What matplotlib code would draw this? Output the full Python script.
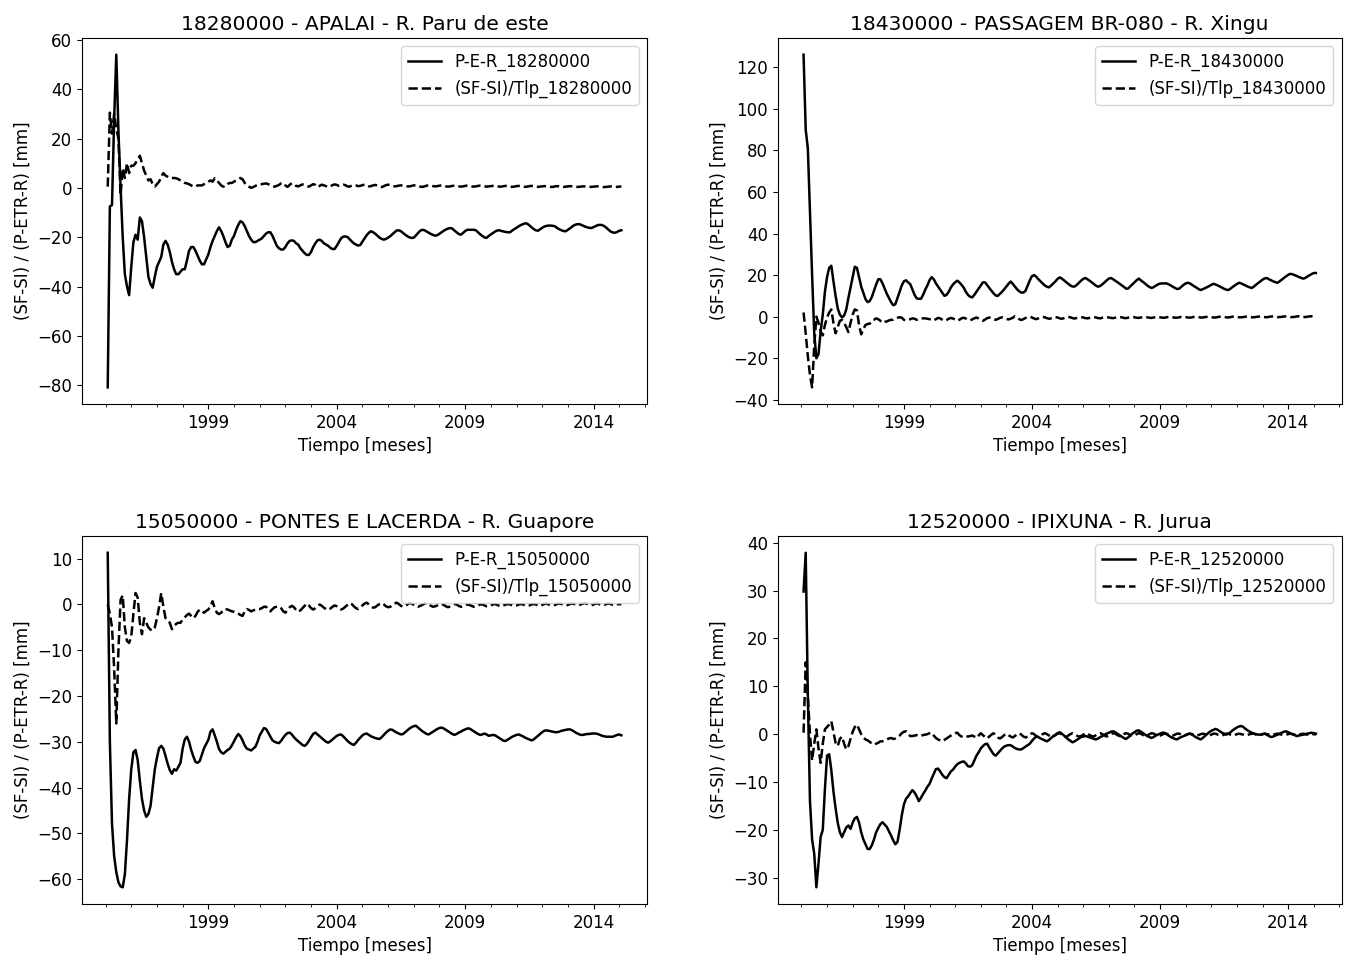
import numpy as np
import matplotlib
matplotlib.use("Agg")
import matplotlib.pyplot as plt
from matplotlib.ticker import FixedLocator, MultipleLocator

# Monthly series, Jan-1995 .. Jan-2015 (241 months)
start_year = 1995
n_months = 241

# ---- 18280000 - APALAI - R. Paru de este ----
per_18280000 = [
    -80.9, -7.5, -7.0, 28.0, 54.0, 23.0, 0.5, -20.0, -35.0, -40.0, -43.5, -32.0,
    -22.0, -19.0, -21.0, -12.0, -13.5, -20.0, -28.0, -36.0, -39.0, -40.5, -36.0, -32.0,
    -30.0, -28.0, -23.0, -21.5, -23.0, -26.0, -30.0, -33.0, -35.0, -35.0, -34.0, -33.0,
    -33.0, -29.5, -25.5, -24.0, -24.0, -25.5, -27.5, -29.5, -31.0, -31.0, -29.0, -27.0,
    -24.0, -21.5, -19.5, -17.5, -16.0, -17.5, -19.5, -22.0, -24.0, -23.5, -21.0, -19.5,
    -17.0, -15.0, -13.5, -14.0, -15.5, -17.5, -19.5, -21.0, -22.0, -22.0, -21.5, -21.0,
    -20.5, -19.5, -18.5, -18.0, -18.0, -19.5, -21.5, -23.5, -24.5, -25.0, -25.0, -24.0,
    -22.5, -21.5, -21.3, -21.5, -22.5, -23.0, -24.5, -25.5, -26.5, -27.2, -27.2, -26.0,
    -24.0, -22.5, -21.3, -21.0, -21.5, -22.5, -23.0, -23.5, -24.3, -24.8, -24.8, -23.5,
    -22.0, -20.5, -19.8, -19.7, -19.9, -20.8, -21.7, -22.5, -23.0, -23.4, -23.2, -21.8,
    -20.5, -19.2, -18.2, -17.6, -18.0, -18.6, -19.4, -20.2, -20.7, -21.0, -20.7, -20.2,
    -19.6, -18.8, -18.0, -17.3, -17.2, -17.6, -18.3, -19.0, -19.6, -20.1, -20.3, -20.2,
    -19.3, -18.3, -17.4, -17.0, -17.2, -17.7, -18.2, -18.7, -19.1, -19.4, -19.2, -18.6,
    -18.0, -17.4, -16.9, -16.5, -16.3, -16.5, -17.3, -18.0, -18.7, -19.0, -18.3, -17.5,
    -17.0, -17.0, -17.0, -17.0, -17.2, -18.0, -18.8, -19.5, -20.1, -20.3, -19.5, -18.9,
    -18.3, -17.7, -17.3, -17.2, -17.5, -17.7, -17.9, -18.0, -18.0, -17.3, -16.7, -16.2,
    -15.6, -15.1, -14.7, -14.4, -14.5, -15.2, -16.0, -16.7, -17.2, -17.4, -16.8, -16.2,
    -15.7, -15.4, -15.3, -15.3, -15.4, -15.6, -16.3, -16.8, -17.2, -17.5, -17.6, -17.0,
    -16.4, -15.7, -15.1, -14.8, -14.7, -14.9, -15.3, -15.7, -16.0, -16.2, -16.3, -15.9,
    -15.5, -15.1, -15.0, -15.1, -15.5, -16.2, -17.0, -17.7, -18.1, -18.2, -17.9, -17.4,
    -17.2,
]
sfsi_18280000 = [
    0.5, 30.5, 22.0, 30.0, 24.0, 20.0, -3.0, 8.0, 4.0, 10.0, 6.0, 9.0,
    9.0, 10.0, 11.5, 13.0, 10.0, 7.0, 5.0, 3.0, 3.5, 1.5, 0.5, 1.5,
    2.5, 4.5, 6.0, 5.0, 4.5, 4.0, 4.0, 4.0, 3.9, 3.5, 3.0, 2.5,
    2.0, 1.8, 1.5, 1.0, 0.5, 0.5, 1.0, 1.0, 1.0, 1.5, 2.0, 2.5,
    3.0, 2.5, 3.9, 3.0, 2.0, 1.0, 0.5, 0.5, 1.5, 2.0, 2.0, 2.5,
    3.0, 3.5, 4.0, 3.5, 2.0, 1.0, 0.5, 0.0, 0.3, 0.8, 1.2, 1.5,
    1.5, 1.7, 1.8, 1.5, 1.0, 0.6, 0.5, 0.8, 1.2, 1.8, 2.0, 1.0,
    0.4, 1.2, 1.9, 1.5, 0.8, 0.6, 1.0, 1.4, 1.2, 0.7, 0.5, 1.0,
    1.5, 1.2, 0.3, 0.8, 1.3, 1.0, 0.7, 0.3, 0.6, 1.1, 1.4, 1.2,
    0.8, 0.9, 1.3, 1.1, 0.6, 0.5, 0.9, 1.2, 1.0, 0.7, 0.8, 1.1,
    1.3, 1.0, 0.6, 0.7, 1.0, 1.2, 0.9, 0.6, 0.3, 0.7, 1.1, 1.3,
    1.1, 0.8, 0.6, 0.7, 0.9, 1.0, 1.0, 0.8, 0.6, 0.6, 0.8, 1.0,
    1.1, 0.9, 0.5, 0.4, 0.6, 0.9, 1.0, 0.9, 0.7, 0.6, 0.7, 0.9,
    1.0, 0.9, 0.6, 0.5, 0.6, 0.8, 0.9, 0.8, 0.6, 0.5, 0.6, 0.8,
    0.9, 0.8, 0.6, 0.5, 0.6, 0.8, 0.9, 0.8, 0.6, 0.5, 0.6, 0.7,
    0.8, 0.8, 0.7, 0.5, 0.5, 0.7, 0.8, 0.7, 0.5, 0.4, 0.5, 0.7,
    0.8, 0.7, 0.5, 0.4, 0.5, 0.7, 0.8, 0.7, 0.5, 0.4, 0.5, 0.6,
    0.7, 0.7, 0.6, 0.4, 0.4, 0.6, 0.7, 0.6, 0.5, 0.4, 0.5, 0.6,
    0.7, 0.6, 0.5, 0.4, 0.4, 0.5, 0.6, 0.6, 0.5, 0.4, 0.4, 0.5,
    0.6, 0.6, 0.5, 0.4, 0.3, 0.4, 0.5, 0.6, 0.5, 0.4, 0.4, 0.5,
    0.6,
]

# ---- 18430000 - PASSAGEM BR-080 - R. Xingu ----
per_18430000 = [
    126.0, 90.0, 81.0, 50.0, 20.0, -8.0, -20.0, -18.0, -7.0, 1.0, 12.0, 19.0,
    23.5, 24.5, 17.0, 10.0, 4.0, 1.0, -0.3, 0.5, 3.5, 9.0, 14.0, 19.0,
    24.0, 23.5, 19.0, 14.5, 11.5, 8.5, 7.0, 7.5, 9.5, 12.5, 15.5, 18.0,
    18.0, 16.0, 13.5, 11.0, 9.0, 7.0, 5.5, 6.0, 9.0, 12.0, 15.0, 17.0,
    17.5, 16.5, 15.6, 13.0, 10.5, 8.8, 8.6, 8.6, 10.5, 13.0, 15.0, 17.5,
    19.0, 18.0, 16.0, 14.5, 13.0, 11.5, 10.0, 10.5, 12.0, 14.0, 15.5, 16.5,
    17.3, 16.5, 15.3, 14.0, 12.0, 10.5, 9.6, 9.3, 10.5, 12.0, 13.5, 15.0,
    16.5, 16.5, 15.2, 13.8, 12.5, 11.2, 10.2, 10.0, 11.0, 12.0, 13.2, 14.5,
    15.8, 16.9, 15.8, 14.5, 13.2, 12.2, 11.6, 11.6, 12.5, 15.0, 17.5, 19.5,
    20.0, 19.2, 18.0, 17.0, 16.0, 15.0, 14.4, 14.1, 15.0, 16.0, 17.0, 18.2,
    18.9, 18.3, 17.5, 16.6, 15.8, 15.0, 14.5, 14.5, 15.3, 16.3, 17.3, 18.2,
    18.6, 18.0, 17.3, 16.5, 15.7, 14.9, 14.4, 14.8, 15.6, 16.5, 17.5, 18.3,
    18.6, 18.0, 17.3, 16.6, 15.9, 15.1, 14.4, 13.5, 13.5, 14.5, 15.5, 16.5,
    17.5, 18.3, 17.5, 16.7, 15.9, 15.0, 14.3, 13.8, 14.2, 14.9, 15.5, 15.9,
    16.0, 16.0, 16.0, 15.6, 15.0, 14.4, 13.8, 13.3, 13.5, 14.4, 15.3, 16.0,
    16.3, 16.0, 15.3, 14.6, 14.0, 13.3, 12.8, 13.2, 13.7, 14.2, 14.7, 15.3,
    15.8, 15.5, 15.0, 14.5, 14.0, 13.4, 13.0, 12.8, 13.5, 14.3, 15.0, 15.7,
    16.3, 16.0, 15.5, 15.0, 14.5, 14.1, 13.8, 14.5, 15.4, 16.2, 17.0, 17.8,
    18.4, 18.6, 18.0, 17.5, 17.0, 16.6, 16.3, 17.0, 17.8, 18.6, 19.4, 20.1,
    20.6, 20.4, 20.0, 19.6, 19.1, 18.7, 18.3, 18.6, 19.3, 19.9, 20.5, 21.0,
    21.0,
]
sfsi_18430000 = [
    2.0, -8.0, -19.0, -28.0, -34.0, -14.0, 0.0, -3.0, -7.0, -9.0, -4.0, -0.5,
    2.0, 3.5, -3.0, -8.0, -5.0, -2.0, -1.5, -3.0, -5.0, -7.4, -3.0, 1.0,
    3.5, 3.0, -4.0, -8.5, -6.0, -4.0, -3.5, -3.4, -2.0, -1.5, -0.8, -1.2,
    -2.0, -3.0, -2.5, -2.3, -1.8, -1.5, -1.5, -1.0, -0.5, -0.3, -0.5, -1.5,
    -1.8, -1.5, -1.2, -0.8, -1.0, -1.5, -1.2, -1.0, -0.8, -0.8, -1.0, -1.2,
    -1.4, -1.8, -1.2, -0.6, -0.8, -1.5, -2.0, -1.6, -1.0, -0.6, -0.9, -1.4,
    -1.9, -1.5, -0.8, -0.5, -0.9, -1.5, -1.8, -1.3, -0.8, -0.4, -0.9, -1.6,
    -2.0, -1.4, -0.7, -0.4, -0.8, -1.3, -1.5, -1.1, -0.6, -0.3, -0.6, -1.1,
    -1.3, -1.0, -0.5, 0.2, -0.4, -1.2, -1.6, -1.2, -0.6, -0.2, 0.0, -0.4,
    -0.9, -1.2, -0.8, -0.3, -0.1, -0.3, -0.7, -1.0, -0.8, -0.4, -0.2, -0.4,
    -0.8, -1.0, -0.7, -0.3, -0.1, -0.3, -0.7, -0.9, -0.6, -0.3, -0.2, -0.4,
    -0.7, -0.8, -0.6, -0.3, -0.2, -0.4, -0.7, -0.8, -0.5, -0.3, -0.2, -0.4,
    -0.6, -0.7, -0.5, -0.3, -0.2, -0.3, -0.6, -0.7, -0.5, -0.2, -0.1, -0.3,
    -0.5, -0.6, -0.4, -0.2, -0.1, -0.3, -0.5, -0.6, -0.4, -0.2, -0.1, -0.3,
    -0.5, -0.5, -0.3, -0.1, -0.1, -0.3, -0.5, -0.5, -0.3, -0.1, 0.0, -0.2,
    -0.4, -0.5, -0.3, -0.1, 0.0, -0.2, -0.4, -0.4, -0.2, -0.1, 0.0, -0.2,
    -0.4, -0.4, -0.2, 0.0, 0.0, -0.2, -0.3, -0.4, -0.2, 0.0, 0.1, -0.1,
    -0.3, -0.3, -0.2, 0.0, 0.1, -0.1, -0.3, -0.3, -0.1, 0.0, 0.1, -0.1,
    -0.2, -0.3, -0.1, 0.1, 0.1, -0.1, -0.2, -0.2, -0.1, 0.1, 0.1, 0.0,
    -0.2, -0.2, -0.1, 0.1, 0.2, 0.0, -0.1, -0.2, 0.0, 0.1, 0.2, 0.1,
    0.0,
]

# ---- 15050000 - PONTES E LACERDA - R. Guapore ----
per_15050000 = [
    11.3, -30.0, -48.0, -55.0, -58.5, -60.7, -61.6, -61.8, -59.0, -51.5, -42.5, -36.0,
    -32.3, -31.8, -34.0, -38.5, -42.5, -45.0, -46.4, -45.8, -44.0, -40.0, -36.0, -33.5,
    -31.4, -30.9, -31.5, -33.1, -34.8, -36.2, -37.0, -36.0, -36.3, -35.5, -34.6, -31.5,
    -29.5, -28.9, -30.0, -31.8, -33.2, -34.4, -34.6, -34.2, -32.8, -31.4, -30.5, -29.6,
    -27.8, -27.3, -28.6, -30.0, -31.6, -32.3, -32.6, -32.2, -31.8, -31.5, -30.8, -29.9,
    -29.0, -28.3, -28.8, -29.7, -30.8, -31.5, -31.7, -31.9, -31.5, -31.1, -30.0, -28.6,
    -27.8, -27.0, -27.2, -28.0, -28.9, -29.7, -30.0, -30.2, -30.3, -29.8, -29.1, -28.5,
    -28.1, -28.0, -28.4, -29.0, -29.5, -29.9, -30.3, -30.7, -30.9, -30.5, -29.8, -29.0,
    -28.3, -28.0, -28.4, -28.8, -29.2, -29.6, -30.0, -30.2, -29.9, -29.5, -29.1, -28.7,
    -28.5, -28.4, -28.8, -29.3, -29.8, -30.2, -30.5, -30.7, -30.2, -29.6, -29.1, -28.6,
    -28.3, -28.2, -28.5, -28.8, -29.0, -29.2, -29.3, -29.4, -29.0, -28.5, -28.0, -27.6,
    -27.3, -27.4, -27.7, -28.0, -28.2, -28.4, -28.3, -27.9, -27.5, -27.1, -26.8, -26.6,
    -26.5, -26.9, -27.3, -27.7, -28.0, -28.3, -28.4, -28.1, -27.8, -27.5, -27.2, -27.0,
    -26.9, -27.1, -27.4, -27.7, -28.0, -28.3, -28.5, -28.3, -28.0, -27.8, -27.5, -27.3,
    -27.1, -27.1, -27.4, -27.7, -28.0, -28.3, -28.5, -28.4, -28.2, -28.4, -28.7, -28.6,
    -28.5, -28.6, -28.9, -29.2, -29.5, -29.8, -29.8, -29.5, -29.2, -28.9, -28.7, -28.5,
    -28.4, -28.6, -28.8, -29.1, -29.3, -29.5, -29.7, -29.5, -29.1, -28.7, -28.3, -27.9,
    -27.6, -27.5, -27.6, -27.7, -27.8, -27.9, -27.9, -27.8, -27.6, -27.5, -27.4, -27.3,
    -27.3, -27.5, -27.8, -28.1, -28.3, -28.5, -28.5, -28.4, -28.3, -28.3, -28.2, -28.2,
    -28.2, -28.3, -28.5, -28.7, -28.8, -28.9, -28.9, -28.9, -28.9, -28.7, -28.5, -28.4,
    -28.6,
]
sfsi_15050000 = [
    0.0, -2.0, -5.0, -14.0, -26.0, -10.0, 1.0, 2.0, -5.0, -8.0, -8.4, -7.0,
    -2.0, 2.5, 1.5, -4.0, -6.5, -3.0, -4.0, -5.0, -5.5, -5.7, -5.0, -3.0,
    -0.5, 2.5, -0.5, -3.0, -3.5, -4.0, -5.4, -4.8, -4.2, -4.0, -4.0, -3.3,
    -2.8, -2.3, -2.0, -2.5, -3.0, -2.5, -1.6, -1.1, -1.5, -1.8, -1.4, -1.1,
    -0.3, 0.7, -0.8, -1.8, -2.1, -1.8, -1.2, -1.0, -1.1, -1.3, -1.5, -1.6,
    -1.8, -2.0, -2.3, -2.5, -1.5, -1.0, -1.2, -1.5, -1.3, -1.1, -1.0, -1.0,
    -0.8, -0.5, -0.5, -1.2, -1.5, -1.0, -0.6, -0.5, -0.4, -0.8, -1.5, -1.8,
    -1.2, -0.6, -0.3, -0.6, -1.2, -1.6, -1.3, -0.8, -0.3, 0.2, -0.2, -0.8,
    -1.1, -0.8, -0.4, 0.0, -0.3, -0.7, -1.0, -1.2, -0.9, -0.5, -0.2, -0.4,
    -0.8, -1.1, -0.9, -0.5, -0.1, 0.3, 0.1, -0.4, -0.8, -1.0, -0.6, -0.2,
    0.2, 0.4, 0.0, -0.4, -0.7, -0.6, -0.2, 0.1, 0.3, 0.0, -0.4, -0.6,
    -0.5, -0.2, 0.2, 0.4, 0.1, -0.3, -0.5, -0.3, 0.0, 0.3, 0.2, -0.1,
    -0.4, -0.5, -0.3, -0.1, 0.2, 0.3, 0.0, -0.3, -0.5, -0.4, -0.2, 0.0,
    0.1, -0.1, -0.4, -0.6, -0.4, -0.1, 0.1, 0.0, -0.3, -0.5, -0.4, -0.2,
    0.0, -0.1, -0.3, -0.5, -0.4, -0.2, 0.0, 0.0, -0.2, -0.4, -0.4, -0.2,
    0.0, 0.1, -0.1, -0.3, -0.4, -0.2, 0.0, 0.1, 0.0, -0.2, -0.3, -0.2,
    0.0, 0.1, 0.0, -0.2, -0.3, -0.2, 0.0, 0.1, 0.0, -0.2, -0.3, -0.1,
    0.1, 0.2, 0.0, -0.2, -0.2, -0.1, 0.1, 0.2, 0.1, -0.1, -0.2, -0.1,
    0.1, 0.2, 0.1, -0.1, -0.2, 0.0, 0.2, 0.3, 0.1, -0.1, -0.2, 0.0,
    0.2, 0.2, 0.0, -0.1, -0.1, 0.1, 0.2, 0.1, -0.1, -0.2, 0.0, 0.1,
    0.0,
]

# ---- 12520000 - IPIXUNA - R. Jurua ----
per_12520000 = [
    29.8, 37.9, 8.0, -14.0, -22.0, -25.0, -32.0, -27.0, -21.5, -20.0, -11.5, -4.5,
    -4.2, -7.5, -12.0, -15.5, -18.5, -20.5, -21.5, -20.5, -19.5, -19.1, -19.8, -18.5,
    -17.6, -17.3, -18.5, -20.5, -22.0, -23.0, -24.0, -24.0, -23.2, -22.0, -20.5, -19.6,
    -18.8, -18.4, -18.9, -19.4, -20.3, -21.2, -22.2, -23.0, -22.5, -20.0, -17.0, -14.7,
    -13.5, -13.0, -12.3, -11.7, -12.2, -13.0, -14.0, -13.3, -12.5, -11.8, -11.0, -10.4,
    -9.3, -8.3, -7.3, -7.2, -7.8, -8.5, -9.0, -9.2, -8.5, -7.8, -7.4, -6.8,
    -6.3, -6.0, -5.8, -5.7, -6.1, -6.7, -6.8, -6.5, -5.5, -4.5, -3.8, -3.0,
    -2.5, -2.1, -2.0, -2.8, -3.5, -4.2, -4.5, -4.0, -3.5, -3.0, -2.6, -2.4,
    -2.3, -2.3, -2.6, -2.9, -3.1, -3.2, -3.2, -2.9, -2.6, -2.3, -2.0, -1.4,
    -0.9, -0.5, -0.6, -0.9, -1.1, -1.3, -1.5, -1.2, -0.8, -0.4, -0.1, 0.2,
    0.4, 0.1, -0.3, -0.7, -1.1, -1.4, -1.7, -1.5, -1.2, -0.9, -0.6, -0.5,
    -0.4, -0.5, -0.7, -0.8, -1.0, -1.1, -0.9, -0.6, -0.4, -0.1, 0.1, 0.3,
    0.5, 0.6, 0.4, 0.1, -0.2, -0.5, -0.8, -1.0, -0.7, -0.3, 0.1, 0.4,
    0.7, 0.8, 0.5, 0.2, -0.1, -0.4, -0.6, -0.8, -0.6, -0.3, -0.1, 0.1,
    0.3, 0.3, 0.0, -0.3, -0.6, -0.8, -1.0, -1.1, -0.8, -0.6, -0.4, -0.2,
    0.0, 0.1, -0.1, -0.4, -0.7, -0.9, -1.1, -0.8, -0.4, 0.0, 0.4, 0.7,
    0.9, 1.1, 0.9, 0.6, 0.3, 0.1, -0.1, 0.1, 0.4, 0.8, 1.1, 1.4,
    1.6, 1.7, 1.5, 1.1, 0.8, 0.5, 0.3, 0.1, 0.0, -0.1, -0.1, 0.0,
    0.1, -0.1, -0.4, -0.6, -0.5, -0.3, -0.1, 0.1, 0.3, 0.5, 0.6, 0.4,
    0.2, 0.0, -0.2, -0.4, -0.3, -0.2, -0.1, 0.0, 0.1, 0.2, 0.3, 0.2,
    0.1,
]
sfsi_12520000 = [
    0.3, 15.0, 8.0, 0.0, -5.5, -2.0, 1.0, -3.0, -6.0, -2.0, 1.0, 1.5,
    2.0, 2.7, 0.5, -1.8, -2.5, -1.0, -0.5, -2.0, -3.2, -2.5, -1.0, 0.5,
    1.5, 2.0, 1.0, 0.0, -0.7, -1.1, -1.3, -1.6, -2.0, -2.2, -2.0, -1.8,
    -1.5, -1.5, -1.3, -1.1, -0.9, -0.8, -1.0, -0.9, -0.6, -0.3, 0.2, 0.5,
    0.6, 0.0, -0.4, -0.4, -0.3, -0.2, -0.4, -0.3, -0.2, -0.1, 0.0, 0.2,
    0.3, -0.3, -0.8, -1.1, -1.3, -1.5, -1.2, -0.9, -0.6, -0.3, 0.0, 0.2,
    0.3, -0.2, -0.5, -0.3, -0.4, -0.5, -0.4, -0.3, -0.5, -0.8, -0.3, 0.2,
    -0.2, -0.6, -0.9, -0.5, -0.1, 0.2, -0.3, -0.7, -0.9, -0.6, -0.2, 0.1,
    -0.2, -0.5, -0.7, -0.4, 0.0, 0.2, -0.1, -0.5, -0.7, -0.5, -0.1, 0.2,
    0.0, -0.4, -0.6, -0.4, 0.0, 0.2, 0.0, -0.3, -0.6, -0.5, -0.2, 0.1,
    0.2, -0.1, -0.4, -0.6, -0.3, 0.0, 0.2, 0.0, -0.3, -0.5, -0.4, -0.1,
    0.2, 0.1, -0.2, -0.4, -0.5, -0.2, 0.1, 0.2, 0.0, -0.3, -0.5, -0.3,
    0.0, 0.2, 0.1, -0.2, -0.4, -0.3, 0.0, 0.2, 0.1, -0.2, -0.4, -0.3,
    0.0, 0.2, 0.1, -0.2, -0.4, -0.3, 0.0, 0.2, 0.1, -0.1, -0.3, -0.3,
    -0.1, 0.1, 0.1, -0.1, -0.3, -0.3, -0.1, 0.1, 0.1, -0.1, -0.3, -0.2,
    0.0, 0.1, 0.0, -0.2, -0.3, -0.2, 0.0, 0.1, 0.0, -0.2, -0.3, -0.1,
    0.1, 0.1, -0.1, -0.2, -0.3, -0.1, 0.1, 0.1, -0.1, -0.2, -0.2, 0.0,
    0.1, 0.0, -0.1, -0.2, -0.2, 0.0, 0.1, 0.1, -0.1, -0.2, -0.2, 0.0,
    0.1, 0.0, -0.1, -0.2, -0.1, 0.0, 0.1, 0.0, -0.1, -0.2, -0.1, 0.0,
    0.1, 0.0, -0.1, -0.2, -0.1, 0.0, 0.1, 0.0, -0.1, -0.1, 0.0, 0.0,
    -0.1,
]

stations = ["18280000", "18430000", "15050000", "12520000"]
titles = [
    "18280000 - APALAI - R. Paru de este",
    "18430000 - PASSAGEM BR-080 - R. Xingu",
    "15050000 - PONTES E LACERDA - R. Guapore",
    "12520000 - IPIXUNA - R. Jurua",
]
per_series = [per_18280000, per_18430000, per_15050000, per_12520000]
sfsi_series = [sfsi_18280000, sfsi_18430000, sfsi_15050000, sfsi_12520000]
y_steps = [20, 20, 10, 10]

year_ticks = [1999, 2004, 2009, 2014]
year_minor = list(range(1995, 2017))

# decimal-year time axis (end of each month)
time = start_year + np.arange(1, n_months + 1) / 12.0

plt.rcParams["font.family"] = "DejaVu Sans"
fig = plt.figure(figsize=(13.45, 9.61), dpi=100)

positions = [
    [0.061, 0.5796, 0.4201, 0.3808],
    [0.5784, 0.5796, 0.4190, 0.3808],
    [0.061, 0.0593, 0.4201, 0.3829],
    [0.5784, 0.0593, 0.4190, 0.3829],
]

for pos, st, title, per, sfsi, step in zip(positions, stations, titles,
                                             per_series, sfsi_series, y_steps):
    ax = fig.add_axes(pos)
    ax.plot(time, per, color="black", lw=1.8, ls="-", label=f"P-E-R_{st}")
    ax.plot(time, sfsi, color="black", lw=1.8, ls="--", label=f"(SF-SI)/Tlp_{st}")
    ax.set_title(title, fontsize=14.6)
    ax.set_xlabel("Tiempo [meses]", fontsize=12)
    ax.set_ylabel("(SF-SI) / (P-ETR-R) [mm]", fontsize=12)
    ax.xaxis.set_major_locator(FixedLocator(year_ticks))
    ax.xaxis.set_minor_locator(FixedLocator(year_minor))
    ax.set_xticklabels([str(y) for y in year_ticks])
    ax.yaxis.set_major_locator(MultipleLocator(step))
    ax.tick_params(axis="both", which="major", labelsize=12)
    ax.legend(loc="upper right", fontsize=12)

fig.savefig("out.png", dpi=100)
